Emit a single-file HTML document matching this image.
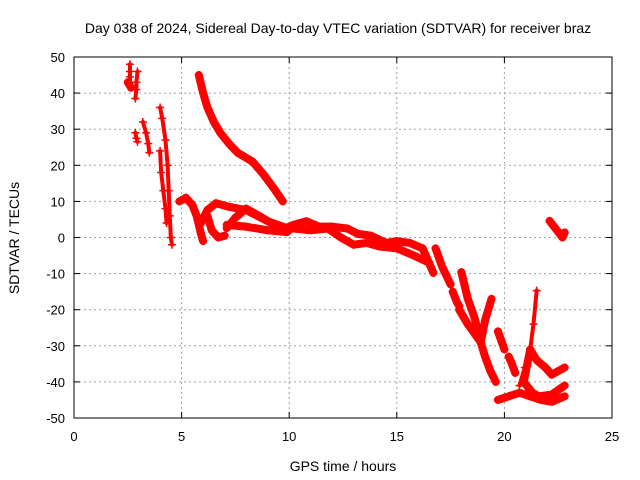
<!DOCTYPE html>
<html><head><meta charset="utf-8"><style>
html,body{margin:0;padding:0;background:#fff}
svg{display:block;font-family:"Liberation Sans",sans-serif}
</style></head><body>
<svg id="chart" width="640" height="480">
<text x="338" y="33" text-anchor="middle" font-size="14">Day 038 of 2024, Sidereal Day-to-day VTEC variation (SDTVAR) for receiver braz</text>
<g id="grid"></g>
<g id="series"></g>
<rect x="74" y="57" width="538" height="361" fill="none" stroke="#000" stroke-width="1"/>
<g id="axes"></g>
<text x="343" y="471" text-anchor="middle" font-size="14">GPS time / hours</text>
<text transform="translate(19,238) rotate(-90)" text-anchor="middle" font-size="14">SDTVAR / TECUs</text>
</svg>
<script>
const xTicks=[0,5,10,15,20,25];
const yTicks=[-50,-40,-30,-20,-10,0,10,20,30,40,50];
// tracks: [hours, TECU]
const trackA=[[2.5,43],[2.55,42.5],[2.6,42],[2.65,41.5]];
const trackB=[[2.6,48],[2.6,46],[2.6,44.5],[2.6,43]];
const trackC=[[2.95,46],[2.9,43],[2.9,41],[2.85,38.5]];
const trackD=[[2.85,29],[2.9,27.5],[2.95,26.5]];
const trackE=[[3.2,32],[3.35,29],[3.45,26],[3.5,23.5]];
const trackF=[[4.0,36],[4.1,33],[4.25,27],[4.35,20],[4.4,13],[4.45,6],[4.5,0],[4.55,-2]];
const trackG=[[4.0,24],[4.05,18],[4.15,13],[4.25,8],[4.3,4]];
const trackH=[[5.8,45],[6.0,40],[6.2,36],[6.5,32],[6.8,29],[7.2,26],[7.6,23.5],[8.3,21],[8.8,17.5],[9.3,13.5],[9.7,10]];
const trackI=[[4.9,10],[5.2,11],[5.5,9],[5.7,6],[5.9,1],[6.0,-1]];
const trackJ=[[5.9,4],[6.2,7.6],[6.6,9.5],[7.2,8.5],[8.0,7.6],[9.0,4.5],[9.9,2.6]];
const trackK=[[6.2,6],[6.4,2],[6.7,0],[7.0,0.5]];
const trackL=[[7.1,2.6],[7.5,5.5],[8.0,8],[8.6,6],[9.3,3.5],[10.0,2]];
const trackM=[[7.1,3.5],[8.0,3],[9.0,2],[9.9,1.5]];
const trackN=[[9.6,2],[10.2,3.5],[10.8,4.5],[11.4,3],[12.0,3],[12.7,2.5],[13.2,1],[13.8,0.5],[14.5,-1.5],[15.0,-1],[15.6,-1.5],[16.2,-3],[16.7,-9.8]];
const trackO=[[10.2,2.5],[11.0,2],[11.8,2.5],[12.4,0],[13.0,-2],[13.6,-1.5],[14.2,-2.5],[15.0,-3],[15.8,-5],[16.5,-7]];
const trackP=[[16.8,-3],[17.1,-8],[17.5,-13]];
const trackQ=[[17.6,-15],[17.8,-18],[17.9,-19]];
const trackR=[[18.0,-9.6],[18.3,-17],[18.6,-22],[18.9,-29],[19.1,-33],[19.35,-37],[19.6,-40]];
const trackS=[[19.4,-17],[19.1,-23],[18.9,-29]];
const trackT=[[17.9,-20],[18.3,-24],[18.9,-29]];
const trackU=[[19.7,-26],[19.85,-28.5],[20.0,-31]];
const trackV=[[20.2,-33],[20.35,-35],[20.5,-37.5]];
const trackW=[[19.7,-45],[20.2,-44],[20.7,-43],[21.2,-44],[21.7,-45],[22.2,-45.5],[22.8,-44]];
const trackX=[[20.7,-41],[20.95,-36],[21.2,-31],[21.35,-24],[21.5,-14.7]];
const trackY=[[21.2,-31],[21.5,-34],[21.9,-36],[22.2,-38],[22.5,-37],[22.8,-36]];
const trackZ=[[21.2,-31],[20.9,-40],[21.3,-43],[21.6,-44],[22.2,-43.5],[22.8,-41]];
const trackAA=[[22.1,4.6],[22.4,2.3],[22.7,0],[22.8,1.4]];
const tracks=[trackA,trackB,trackC,trackD,trackE,trackF,trackG,trackH,trackI,trackJ,trackK,trackL,trackM,trackN,trackO,trackP,trackQ,trackR,trackS,trackT,trackU,trackV,trackW,trackX,trackY,trackZ,trackAA];
const sparse=[1,2,3,4,5,6,23];

const X0=74,X1=612,Y0=418,Y1=57;
const xs=t=>X0+(t-0)/25*(X1-X0);
const ys=v=>Y0-(v+50)/100*(Y0-Y1);
const NS="http://www.w3.org/2000/svg";
const grid=document.getElementById('grid'),axes=document.getElementById('axes'),ser=document.getElementById('series');
function mk(tag,attrs,parent){const e=document.createElementNS(NS,tag);for(const k in attrs)e.setAttribute(k,attrs[k]);parent.appendChild(e);return e;}
xTicks.forEach(t=>{const x=xs(t);
 if(t>0&&t<25){const g=mk('line',{x1:x,x2:x,y1:Y1,y2:Y0,stroke:'#a0a0a0','stroke-dasharray':'2,3'},grid);
 
 }
 mk('line',{x1:x,x2:x,y1:Y0,y2:Y0-6,stroke:'#000'},axes);
 mk('line',{x1:x,x2:x,y1:Y1,y2:Y1+6,stroke:'#000'},axes);
 const l=mk('text',{x:x,y:Y0+23,'text-anchor':'middle','font-size':13},axes);l.textContent=t;
 
 });
yTicks.forEach(v=>{const y=ys(v);
 if(v>-50&&v<50){const g=mk('line',{x1:X0,x2:X1,y1:y,y2:y,stroke:'#a0a0a0','stroke-dasharray':'2,3'},grid);
 
 }
 mk('line',{x1:X0,x2:X0+6,y1:y,y2:y,stroke:'#000'},axes);
 mk('line',{x1:X1,x2:X1-6,y1:y,y2:y,stroke:'#000'},axes);
 const l=mk('text',{x:X0-9,y:y+5,'text-anchor':'end','font-size':13},axes);l.textContent=v;
 
 });
tracks.forEach((tr,i)=>{
 const g=mk('g',{},ser);
 
 
 const p=mk('polyline',{points:tr.map(d=>xs(d[0])+','+ys(d[1])).join(' '),fill:'none',stroke:'#ff0000','stroke-width':sparse.includes(i)?4:8,'stroke-linejoin':'round','stroke-linecap':'round'},g);
 
 
 tr.forEach(d=>{const x=xs(d[0]),y=ys(d[1]);
  const m=mk('path',{d:`M${x-4},${y}H${x+4}M${x},${y-4}V${y+4}`,stroke:'#ff0000','stroke-width':1.5},g);
  
  });
});
</script>
</body></html>
